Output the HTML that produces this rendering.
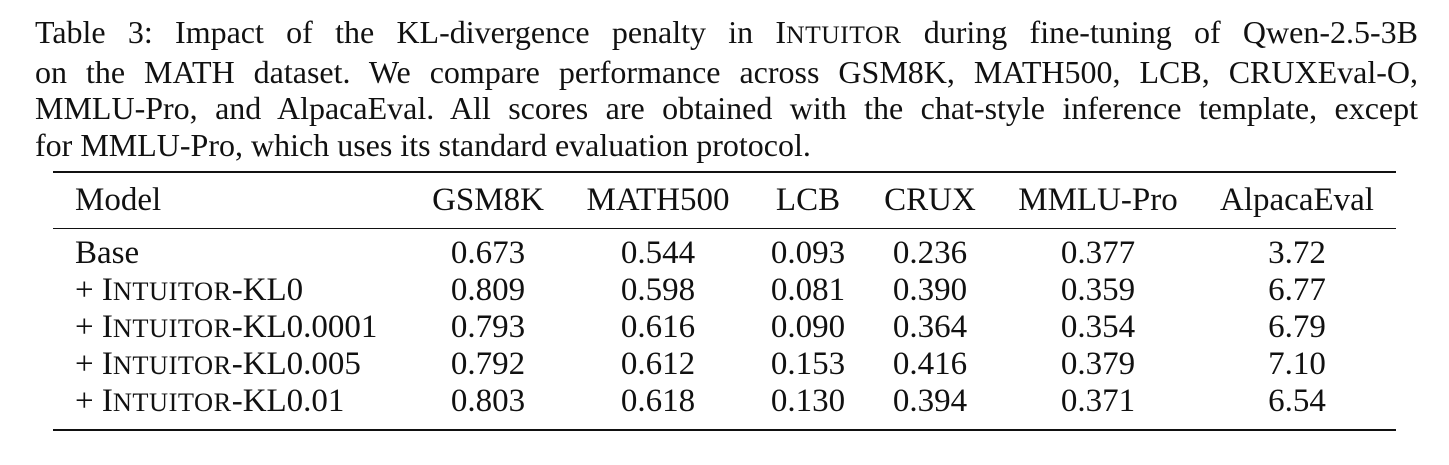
<!DOCTYPE html>
<html><head><meta charset="utf-8"><style>
body{margin:0;width:1449px;height:465px;background:#fff;font-family:"Liberation Serif",serif;color:#111;position:relative;overflow:hidden}
#cap{position:absolute;left:35px;top:14px;width:1383px;font-size:32px;line-height:36.5px}
.ln{text-align:justify;text-align-last:justify;white-space:nowrap}
.ln.last{text-align-last:left}
.sc{font-size:0.8em;letter-spacing:0.5px}
.rule{position:absolute;left:53px;width:1343px;background:#111}
.c{position:absolute;font-size:33px;line-height:33px;white-space:nowrap;transform:translateX(-50%)}
.m{position:absolute;left:75px;font-size:33px;line-height:33px;white-space:nowrap}
</style></head><body>
<div id="cap">
<div class="ln">Table 3: Impact of the KL-divergence penalty in I<span class="sc">NTUITOR</span> during fine-tuning of Qwen-2.5-3B</div>
<div class="ln">on the MATH dataset. We compare performance across GSM8K, MATH500, LCB, CRUXEval-O,</div>
<div class="ln">MMLU-Pro, and AlpacaEval. All scores are obtained with the chat-style inference template, except</div>
<div class="ln last">for MMLU-Pro, which uses its standard evaluation protocol.</div>
</div>
<div class="rule" style="top:171px;height:2px"></div>
<div class="rule" style="top:228px;height:1px"></div>
<div class="rule" style="top:429px;height:2px"></div>
<div id="tbl"></div>
<script>
const cols=["GSM8K","MATH500","LCB","CRUX","MMLU-Pro","AlpacaEval"];
const models=["Base","KL0","KL0.0001","KL0.005","KL0.01"];
const rows=[["0.673","0.544","0.093","0.236","0.377","3.72"],["0.809","0.598","0.081","0.390","0.359","6.77"],["0.793","0.616","0.090","0.364","0.354","6.79"],["0.792","0.612","0.153","0.416","0.379","7.10"],["0.803","0.618","0.130","0.394","0.371","6.54"]];
const cx=[488,658,808,930,1098,1297];
const t=document.getElementById('tbl');
function add(cls,x,y,html,name){const d=document.createElement('div');d.className=cls;if(x!==null)d.style.left=x+'px';d.style.top=y+'px';d.innerHTML=html;


t.appendChild(d);}
add('m',null,184,'Model','header-model');
cols.forEach((c,i)=>add('c',cx[i],184,c,'header-'+c.toLowerCase()));
models.forEach((m,r)=>{const y=237+r*37;
add('m',null,y,r===0?m:'+ I<span class="sc">NTUITOR</span>-'+m,'row-label-'+r);
rows[r].forEach((v,i)=>add('c',cx[i],y,v,'cell-'+r+'-'+i));});
</script>
</body></html>
